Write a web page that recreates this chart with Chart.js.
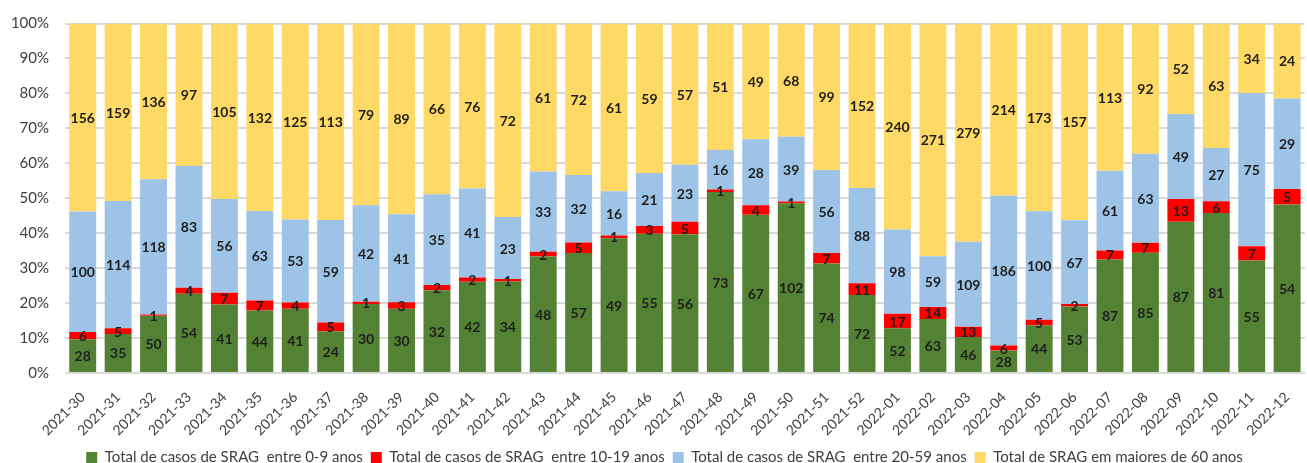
<!DOCTYPE html>
<html>
<head>
<meta charset="utf-8">
<script src="https://cdn.jsdelivr.net/npm/chart.js@4"></script>
<style>
  html, body { margin: 0; padding: 0; background: #fff; }
  #wrap { width: 1307px; height: 463px; }
</style>
</head>
<body>
<div id="wrap"><canvas id="chart" width="1307" height="463"></canvas></div>
<script>
// Semanas epidemiológicas
const weeks = [
  '2021-30', '2021-31', '2021-32', '2021-33', '2021-34', '2021-35', '2021-36', '2021-37',
  '2021-38', '2021-39', '2021-40', '2021-41', '2021-42', '2021-43', '2021-44', '2021-45',
  '2021-46', '2021-47', '2021-48', '2021-49', '2021-50', '2021-51', '2021-52',
  '2022-01', '2022-02', '2022-03', '2022-04', '2022-05', '2022-06', '2022-07', '2022-08',
  '2022-09', '2022-10', '2022-11', '2022-12'
];

// Casos de SRAG por faixa etária
const age0to9 = [28, 35, 50, 54, 41, 44, 41, 24, 30, 30, 32, 42, 34, 48, 57, 49, 55, 56, 73, 67, 102, 74, 72,
                 52, 63, 46, 28, 44, 53, 87, 85, 87, 81, 55, 54];
const age10to19 = [6, 5, 1, 4, 7, 7, 4, 5, 1, 3, 2, 2, 1, 2, 5, 1, 3, 5, 1, 4, 1, 7, 11,
                   17, 14, 13, 6, 5, 2, 7, 7, 13, 6, 7, 5];
const age20to59 = [100, 114, 118, 83, 56, 63, 53, 59, 42, 41, 35, 41, 23, 33, 32, 16, 21, 23, 16, 28, 39, 56, 88,
                   98, 59, 109, 186, 100, 67, 61, 63, 49, 27, 75, 29];
const age60plus = [156, 159, 136, 97, 105, 132, 125, 113, 79, 89, 66, 76, 72, 61, 72, 61, 59, 57, 51, 49, 68, 99, 152,
                   240, 271, 279, 214, 173, 157, 113, 92, 52, 63, 34, 24];

const yTicks = [0, 10, 20, 30, 40, 50, 60, 70, 80, 90, 100];

const FONT = 'Lato, "Liberation Sans", sans-serif';

// totals per week, used to turn counts into shares of 100%
const totals = weeks.map((_, i) => age0to9[i] + age10to19[i] + age20to59[i] + age60plus[i]);
const share = arr => arr.map((v, i) => v / totals[i] * 100);

const series = [
  { label: 'Total de casos de SRAG  entre 0-9 anos', raw: age0to9, color: '#548235' },
  { label: 'Total de casos de SRAG  entre 10-19 anos', raw: age10to19, color: '#ff0000' },
  { label: 'Total de casos de SRAG  entre 20-59 anos', raw: age20to59, color: '#9dc3e6' },
  { label: 'Total de SRAG em maiores de 60 anos', raw: age60plus, color: '#ffd966' }
];

// write the raw count in the middle of each stacked segment
const segmentLabels = {
  id: 'segmentLabels',
  afterDatasetsDraw (chart) {
    const ctx = chart.ctx;
    ctx.save();
    ctx.font = 'bold 14px ' + FONT;
    ctx.fillStyle = '#1e1e1e';
    ctx.textAlign = 'center';
    ctx.textBaseline = 'middle';
    chart.data.datasets.forEach((ds, di) => {
      const meta = chart.getDatasetMeta(di);
      meta.data.forEach((bar, i) => {
        const mid = (bar.y + bar.base) / 2;
        ctx.fillText(String(ds.raw[i]), bar.x, mid + 1);
      });
    });
    ctx.restore();
  }
};

// nudge the legend row a little to the right
const legendShift = {
  id: 'legendShift',
  afterLayout (chart) {
    if (!chart.legend) return;
    chart.legend.left += 8;
    chart.legend.right += 8;
  }
};

new Chart(document.getElementById('chart'), {
  type: 'bar',
  data: {
    labels: weeks,
    datasets: series.map(s => ({
      label: s.label,
      raw: s.raw,
      data: share(s.raw),
      backgroundColor: s.color,
      borderWidth: 0,
      categoryPercentage: 1,
      barPercentage: 0.76
    }))
  },
  options: {
    responsive: false,
    animation: false,
    layout: { padding: { left: 4, right: -2, top: 4, bottom: -12 } },
    plugins: {
      legend: {
        position: 'bottom',
        labels: {
          font: { family: FONT, size: 15, lineHeight: 1 },
          color: '#404040',
          boxWidth: 11,
          boxHeight: 11,
          padding: 8
        }
      },
      tooltip: { enabled: false }
    },
    scales: {
      x: {
        stacked: true,
        grid: { display: false },
        border: { color: '#d9d9d9', width: 1 },
        ticks: {
          color: '#404040',
          font: { family: FONT, size: 14 },
          minRotation: 45,
          maxRotation: 45,
          autoSkip: false,
          padding: 8
        },
        afterFit (scale) { scale.height = 69; }
      },
      y: {
        stacked: true,
        min: 0,
        max: 100,
        afterBuildTicks (scale) { scale.ticks = yTicks.map(v => ({ value: v })); },
        grid: { color: '#d9d9d9', lineWidth: 2, drawTicks: false },
        border: { display: false },
        ticks: {
          color: '#404040',
          font: { family: FONT, size: 15, lineHeight: 1 },
          padding: 16,
          callback: v => v + '%'
        },
        afterFit (scale) { scale.width = 61; }
      }
    }
  },
  plugins: [segmentLabels, legendShift]
});
</script>
</body>
</html>
